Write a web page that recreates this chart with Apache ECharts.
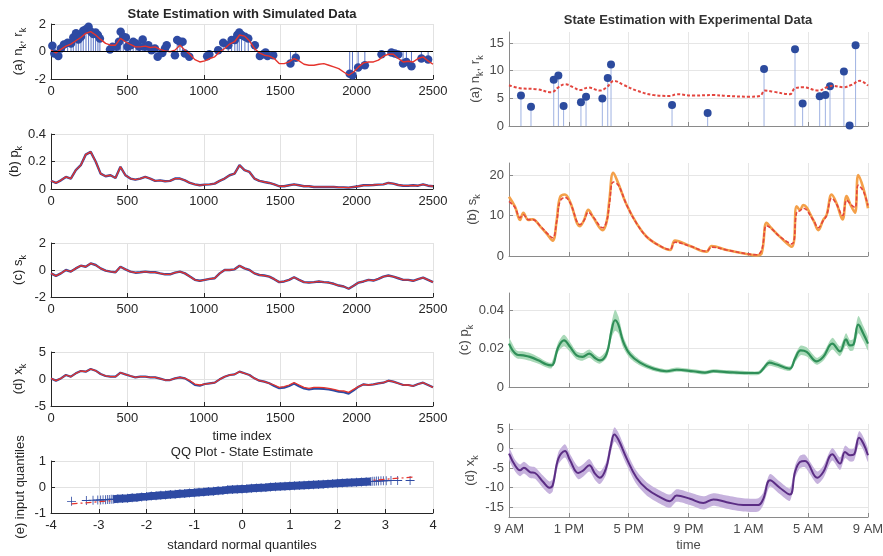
<!DOCTYPE html>
<html>
<head>
<meta charset="utf-8">
<script src="https://cdn.jsdelivr.net/npm/echarts@6/dist/echarts.min.js"></script>
<style>
  html, body { margin: 0; padding: 0; background: #fff; }
  #main { width: 883px; height: 556px; }
</style>
</head>
<body>
<div id="main"></div>
<script>
// ---- simulated data (left column), samples spread evenly over time index 0..2500
var simRk = [0.1, -0.1, 0.15, 0.39, 0.54, 0.78, 1.02, 1.32, 1.44, 1.2, 0.88, 0.59, 0.46, 0.46, 0.95, 0.71, 0.51, 0.34, 0.34, 0.39,
  0.29, 0.34, 0.15, 0.05, -0.02, 0.1, 0.46, 0.1, -0.2, -0.59, -0.76, -0.68, -0.51, -0.39, -0.02, 0.22, 0.54, 0.71, 1.2, 1.12,
  0.78, 0.22, -0.1, -0.27, -0.34, -0.51, -0.88, -0.88, -0.76, -0.51, -0.68, -0.93, -1.0, -1.0, -0.93, -0.88, -1.0, -1.12, -1.24, -1.49,
  -1.73, -1.49, -1.12, -0.83, -0.76, -0.76, -0.63, -0.34, -0.2, -0.2, -0.51, -0.76, -0.71, -0.76, -0.51, -0.39, -0.68, -0.93];
var simObsIdx = [9, 22, 48, 65, 85, 109, 131, 146, 164, 179, 196, 211, 229, 246, 262, 277, 292, 307, 320,
  386, 403, 429, 445, 456, 473, 490, 501, 521, 538, 556, 578, 600, 615, 637, 658, 680, 698, 728, 746, 757,
  811, 826, 844, 861, 876, 905, 1022, 1036, 1094, 1127, 1160, 1182, 1203, 1219, 1232, 1247, 1269, 1291,
  1334, 1367, 1389, 1404, 1417, 1454, 1567, 1602, 1955, 1973, 2010, 2054, 2163, 2228, 2250, 2272, 2304, 2326, 2359, 2424, 2468];
var simObsVal = [0.41, -0.15, -0.32, 0.22, 0.51, 0.63, 0.59, 1.02, 1.32, 0.88, 1.07, 1.51, 1.61, 1.8, 1.44, 1.27, 1.39, 1.2, 0.95,
  0.15, 0.34, 0.34, 0.71, 1.44, 1.07, 1.02, 0.34, 0.46, 0.71, 0.59, 0.34, 0.88, 0.34, 0.46, 0.1, 0.22, -0.39, -0.1, 0.22, 0.46,
  -0.27, 0.83, 0.71, 0.71, -0.15, -0.39, -0.34, -0.2, 0.1, 0.63, 0.46, 0.83, 0.83, 1.2, 1.39, 1.2, 1.07, 0.95,
  0.46, -0.32, -0.2, -0.07, -0.32, -0.27, -0.88, -0.46, -1.61, -1.73, -1.17, -1.0, -0.2, -0.07, -0.15, -0.22, -0.88, -0.76, -1.07, -0.51, -0.59];
var simPk = [0.06, 0.044, 0.063, 0.088, 0.076, 0.137, 0.173, 0.25, 0.27, 0.2, 0.112, 0.093, 0.1, 0.08, 0.161, 0.1, 0.076, 0.068, 0.076, 0.088,
  0.076, 0.059, 0.063, 0.056, 0.059, 0.076, 0.076, 0.063, 0.044, 0.034, 0.027, 0.032, 0.034, 0.039, 0.059, 0.076, 0.1, 0.112, 0.173, 0.137,
  0.124, 0.076, 0.059, 0.051, 0.044, 0.034, 0.02, 0.02, 0.027, 0.034, 0.027, 0.02, 0.02, 0.015, 0.015, 0.015, 0.015, 0.015, 0.012, 0.012,
  0.01, 0.015, 0.02, 0.027, 0.027, 0.029, 0.032, 0.034, 0.044, 0.039, 0.029, 0.024, 0.024, 0.027, 0.024, 0.034, 0.024, 0.02];
var simSk = [-0.25, -0.44, -0.25, 0, -0.12, 0.12, 0.32, 0.24, 0.49, 0.37, 0.12, -0.05, -0.12, -0.17, 0.24, 0.05, -0.12, -0.2, -0.17, -0.12,
  -0.17, -0.17, -0.25, -0.32, -0.32, -0.2, -0.12, -0.25, -0.49, -0.73, -0.8, -0.73, -0.66, -0.61, -0.25, 0, 0, 0.05, 0.32, 0.12,
  0, -0.25, -0.37, -0.41, -0.49, -0.68, -0.9, -0.85, -0.73, -0.54, -0.73, -0.9, -0.93, -0.9, -0.85, -0.9, -0.93, -1.02, -1.15, -1.22,
  -1.39, -1.17, -0.93, -0.85, -0.73, -0.78, -0.66, -0.49, -0.41, -0.49, -0.61, -0.73, -0.73, -0.8, -0.68, -0.56, -0.73, -0.9];
var simXkEst = [0.1, -0.3, 0.1, 0.74, 0.43, 1.05, 1.48, 1.36, 1.85, 1.54, 0.93, 0.56, 0.43, 0.43, 1.17, 0.86, 0.56, 0.31, 0.43, 0.43,
  0.31, 0.31, 0.06, -0.19, -0.19, 0.12, 0.31, 0.12, -0.31, -0.93, -1.11, -0.93, -0.8, -0.68, -0.06, 0.43, 0.74, 0.86, 1.36, 1.05,
  0.74, 0.12, -0.31, -0.49, -0.8, -1.11, -1.54, -1.42, -1.11, -0.68, -1.11, -1.54, -1.73, -1.54, -1.54, -1.6, -1.73, -1.91, -2.16, -2.22,
  -2.47, -1.91, -1.42, -0.99, -1.11, -0.99, -0.8, -0.68, -0.31, -0.49, -0.8, -1.11, -1.11, -1.3, -0.93, -0.68, -1.11, -1.54];
var simXkTrue = [0.1, -0.3, 0.1, 0.74, 0.43, 1.05, 1.48, 1.36, 1.85, 1.54, 0.93, 0.56, 0.43, 0.43, 1.17, 0.86, 0.56, 0.31, 0.43, 0.43,
  0.31, 0.31, 0.06, -0.19, -0.19, 0.12, 0.31, 0.12, -0.45, -1.1, -1.25, -0.93, -0.8, -0.68, -0.06, 0.43, 0.74, 0.86, 1.36, 1.05,
  0.74, 0.12, -0.31, -0.49, -0.8, -1.3, -1.7, -1.6, -1.3, -0.85, -1.35, -1.75, -1.95, -1.8, -1.8, -1.85, -1.95, -2.1, -2.35, -2.45,
  -2.7, -2.1, -1.42, -0.99, -1.11, -0.99, -0.8, -0.68, -0.31, -0.49, -0.8, -1.11, -1.11, -1.3, -0.93, -0.68, -1.11, -1.54];
var qqX = [-3.57, -3.26, -3.12, -3.02, -2.96, -2.91, -2.86, -2.82, -2.78, -2.74, -2.7,
  -2.6, -2.5, -2.4, -2.3, -2.2, -2.1, -2.0, -1.9, -1.8, -1.7, -1.6, -1.5, -1.4, -1.3, -1.2, -1.1, -1.0, -0.9, -0.8, -0.7,
  -0.6, -0.5, -0.4, -0.3, -0.2, -0.1, 0,
  0.1, 0.2, 0.3, 0.4, 0.5, 0.6, 0.7, 0.8, 0.9, 1.0, 1.1, 1.2, 1.3, 1.4, 1.5, 1.6, 1.7, 1.8, 1.9, 2.0, 2.1, 2.2, 2.3, 2.4, 2.5, 2.6,
  2.7, 2.74, 2.78, 2.82, 2.86, 2.91, 2.96, 3.02, 3.12, 3.26, 3.52];
var qqY = [-0.55, -0.52, -0.51, -0.5, -0.5, -0.49, -0.49, -0.48, -0.48, -0.47, -0.47,
  -0.45, -0.44, -0.43, -0.41, -0.4, -0.38, -0.37, -0.35, -0.34, -0.32, -0.31, -0.29, -0.28, -0.26, -0.25, -0.23, -0.22, -0.2, -0.19, -0.17,
  -0.16, -0.14, -0.13, -0.11, -0.1, -0.09, -0.08,
  -0.07, -0.05, -0.04, -0.03, -0.02, 0, 0.01, 0.02, 0.03, 0.04, 0.05, 0.06, 0.07, 0.08, 0.09, 0.1, 0.11, 0.12, 0.13, 0.14, 0.15, 0.16, 0.17, 0.18, 0.19, 0.2,
  0.21, 0.22, 0.22, 0.23, 0.23, 0.24, 0.24, 0.24, 0.25, 0.25, 0.25];
var qqLineX = [-3.57, 3.57];
var qqLineY = [-0.65, 0.38];

// ---- experimental data (right column), x in hours after 9 AM
var timeLabels = ['9 AM', '1 PM', '5 PM', '9 PM', '1 AM', '5 AM', '9 AM'];
var expStemH = [0.8, 1.47, 2.99, 3.3, 3.65, 4.81, 5.15, 6.24, 6.6, 6.82, 10.9, 13.28, 17.05, 19.12, 19.63, 20.77, 21.15, 21.46, 22.39, 22.77, 23.17];
var expStemN = [5.5, 3.5, 8.35, 9.13, 3.63, 4.3, 5.3, 4.96, 8.7, 11.1, 3.8, 2.36, 10.3, 13.9, 4.05, 5.4, 5.6, 7.2, 9.86, 0.1, 14.6];
var expRH = [0, 0.73, 1.85, 2.85, 3.3, 3.74, 4.3, 4.75, 5.3, 6.08, 6.53, 7.02, 7.64, 8.54, 9.65, 10.76, 11.21, 12.32, 13.66, 14.55,
  16.1, 16.78, 17.1, 17.67, 18.78, 19.12, 19.67, 20.68, 21.24, 21.68, 22.35, 22.9, 23.46, 24];
var expRV = [7.38, 6.84, 6.65, 6.1, 7.0, 7.56, 7.0, 6.5, 6.96, 6.4, 7.0, 8.17, 7.44, 6.4, 5.6, 5.44, 5.75, 5.5, 5.6, 5.44,
  5.3, 5.44, 6.4, 6.2, 5.75, 6.84, 7.0, 6.4, 7.0, 7.26, 7.0, 7.44, 8.17, 7.3];
var expSH = [0, 0.4, 0.74, 0.96, 1.29, 1.58, 2.07, 2.56, 2.92, 3.19, 3.41, 3.74, 4.08, 4.75, 5.02, 5.3, 5.64, 6.26, 6.53, 6.71,
  6.97, 7.31, 7.87, 8.53, 9.2, 10.09, 10.76, 11.1, 12.1, 13.2, 13.55, 14.55, 15.9, 16.55, 16.89, 17.22, 17.56, 18.1, 18.9, 19.23,
  19.45, 19.67, 20.34, 20.68, 21.0, 21.23, 21.57, 21.9, 22.3, 22.57, 22.84, 23.13, 23.35, 23.69, 24];
var expSObs = [14.65, 12.2, 8.9, 10.7, 8.9, 9.1, 7.4, 5.35, 3.8, 8.9, 14.5, 15.2, 13.4, 7.4, 8.9, 11.4, 9.5, 6.4, 8.5, 13.8,
  20.6, 17.9, 12.6, 8.07, 4.77, 2.47, 1.48, 3.8, 2.47, 1.07, 2.47, 1.48, 0.5, 0.16, 0.66, 8.2, 6.8, 4.8, 2.3, 12.3,
  11.4, 12.6, 8.9, 6.4, 8.9, 10.1, 15.2, 13.0, 9.05, 14.8, 12.6, 10.7, 20.0, 16.7, 11.8];
var expSEst = [13.5, 12.0, 9.5, 10.2, 9.0, 9.0, 7.5, 5.6, 4.5, 8.5, 13.5, 14.5, 13.2, 7.8, 8.8, 10.8, 9.6, 7.0, 8.6, 12.8,
  18.3, 17.5, 12.6, 8.07, 4.77, 2.5, 1.6, 3.4, 2.47, 1.2, 2.2, 1.48, 0.55, 0.3, 1.5, 7.5, 6.7, 4.8, 3.0, 10.8,
  11.2, 11.8, 8.9, 7.0, 8.7, 10.0, 14.3, 12.8, 10.0, 13.8, 12.8, 12.0, 17.5, 16.0, 12.5];
var expPH = [0, 0.51, 0.96, 1.4, 1.96, 2.52, 2.85, 3.3, 3.68, 4.08, 4.52, 4.92, 5.37, 5.75, 6.08, 6.53, 6.86, 7.09, 7.31, 7.64,
  8.09, 8.76, 9.65, 10.54, 11.21, 12.32, 13.1, 13.66, 14.55, 15.89, 16.67, 17.0, 17.4, 17.89, 18.78, 19.12, 19.5, 19.9, 20.57, 21.01,
  21.61, 22.13, 22.53, 22.79, 23.02, 23.35, 23.69, 24];
var expP = [0.0226, 0.017, 0.0165, 0.0157, 0.0139, 0.0117, 0.0113, 0.0209, 0.0243, 0.0209, 0.0165, 0.0157, 0.0174, 0.0151, 0.0139, 0.0174, 0.0296, 0.0348, 0.0325, 0.0235,
  0.017, 0.0127, 0.0096, 0.0082, 0.009, 0.0082, 0.0075, 0.0083, 0.0078, 0.0073, 0.0073, 0.0096, 0.0127, 0.0117, 0.0096, 0.0148, 0.0191, 0.0183, 0.0134, 0.0157,
  0.0226, 0.0186, 0.0248, 0.0217, 0.0221, 0.0325, 0.0278, 0.0226];
var expPBand = [0.003, 0.002, 0.002, 0.002, 0.0018, 0.0015, 0.0015, 0.0025, 0.003, 0.0025, 0.002, 0.002, 0.0022, 0.002, 0.0018, 0.0022, 0.004, 0.0055, 0.0045, 0.003,
  0.002, 0.0015, 0.0012, 0.001, 0.0011, 0.001, 0.001, 0.001, 0.001, 0.001, 0.001, 0.0012, 0.0016, 0.0015, 0.0012, 0.002, 0.0025, 0.0024, 0.0018, 0.002,
  0.003, 0.0025, 0.0032, 0.0028, 0.003, 0.0045, 0.004, 0.0035];
var expXH = [0, 0.4, 0.74, 1.0, 1.4, 1.74, 2.29, 2.7, 2.92, 3.3, 3.74, 4.08, 4.63, 4.97, 5.37, 5.75, 6.08, 6.48, 6.8, 7.04,
  7.31, 7.87, 8.53, 9.2, 10.09, 10.76, 11.21, 12.1, 12.99, 13.66, 14.55, 15.66, 16.67, 17.0, 17.45, 18.1, 18.78, 19.12, 19.45, 19.79,
  20.61, 21.01, 21.61, 22.13, 22.46, 22.79, 23.06, 23.4, 23.69, 24];
var expX = [-1.27, -4.27, -5.56, -4.87, -6.0, -6.24, -8.56, -10.0, -9.4, -2.55, -0.58, -2.98, -6.24, -5.56, -4.27, -6.4, -7.45, -5.13, 0.45, 3.63,
  2.34, -2.55, -7.45, -10.28, -12.4, -13.45, -12.0, -12.85, -13.9, -13.0, -13.7, -14.4, -14.4, -12.85, -8.1, -10.0, -11.74, -6.0, -3.41, -3.15,
  -7.45, -6.0, -1.44, -3.84, -0.84, -1.7, -1.52, 2.77, 1.3, -1.7];
var expXBand = [1.5, 1.5, 1.5, 1.5, 1.5, 1.5, 1.6, 1.6, 1.6, 1.6, 1.7, 1.6, 1.6, 1.6, 1.6, 1.6, 1.6, 1.6, 1.7, 1.8,
  1.8, 1.7, 1.7, 1.7, 1.7, 1.7, 1.6, 1.6, 1.7, 1.6, 1.7, 1.7, 1.7, 1.6, 1.6, 1.6, 1.6, 1.6, 1.6, 1.6,
  1.6, 1.6, 1.6, 1.6, 1.6, 1.6, 1.6, 1.7, 1.7, 1.7];

// ---- helpers
var FONT = '"Liberation Sans", Arial, Helvetica, sans-serif';
var INK = '#262626';
var GRAY = '#4a4a4a';
var BLUE = '#2e4aa3';
var RED = '#e5332c';

function onIndex(vals) {
  var step = 2500 / (vals.length - 1);
  return vals.map(function (v, i) { return [i * step, v]; });
}
function zip(xs, ys) {
  return xs.map(function (x, i) { return [x, ys[i]]; });
}
function stemItem(params, api) {
  var tip = api.coord([api.value(0), api.value(1)]);
  var foot = api.coord([api.value(0), 0]);
  return {
    type: 'line',
    shape: { x1: foot[0], y1: foot[1], x2: tip[0], y2: tip[1] },
    style: { stroke: api.visual('color'), lineWidth: 1 }
  };
}
// confidence band: upper edge forward, lower edge back, as one smooth polygon
function bandItem(hs, vals, half) {
  return function (params, api) {
    var pts = [];
    for (var i = 0; i < hs.length; i++) pts.push(api.coord([hs[i], vals[i] + half[i]]));
    for (var j = hs.length - 1; j >= 0; j--) pts.push(api.coord([hs[j], vals[j] - half[j]]));
    return { type: 'polygon', shape: { points: pts, smooth: 0.25 }, style: { fill: api.visual('color') } };
  };
}
function nameStyle(color) {
  return {
    color: color, fontSize: 13, fontFamily: FONT, lineHeight: 20,
    rich: { k: { color: color, fontSize: 9, fontFamily: FONT, lineHeight: 9, verticalAlign: 'bottom' } }
  };
}

var leftBoxes = [[24, 55], [134, 55], [243, 54], [352, 54], [461, 52]];
var rightBoxes = [[32, 94], [163, 93], [293, 94], [424, 93]];
var grids = leftBoxes.map(function (b) {
  return { left: 51, top: b[0], width: 382, height: b[1], outerBoundsMode: 'none' };
}).concat(rightBoxes.map(function (b) {
  return { left: 509, top: b[0], width: 359, height: b[1], outerBoundsMode: 'none' };
}));

function simXAxis(i, extra) {
  return Object.assign({
    type: 'value', gridIndex: i, min: 0, max: 2500, interval: 500,
    axisLine: { onZero: false, lineStyle: { color: INK } },
    axisTick: { inside: true, length: 4, lineStyle: { color: INK } },
    axisLabel: { color: INK, fontSize: 13, fontFamily: FONT, margin: 6,
      formatter: function (v) { return String(v); } },
    splitLine: { show: true, lineStyle: { color: '#e2e2e2' } },
    nameTextStyle: { color: INK, fontSize: 13, fontFamily: FONT }
  }, extra || {});
}
function simYAxis(i, min, max, interval, name, gap) {
  return {
    type: 'value', gridIndex: i, min: min, max: max, interval: interval,
    name: name, nameLocation: 'middle', nameGap: gap, nameTextStyle: nameStyle(INK),
    axisLine: { show: true, onZero: false, lineStyle: { color: INK } },
    axisTick: { show: true, inside: true, length: 4, lineStyle: { color: INK } },
    axisLabel: { color: INK, fontSize: 13, fontFamily: FONT, margin: 5 },
    splitLine: { show: true, lineStyle: { color: '#e2e2e2' } }
  };
}
function expXAxis(i, last) {
  return {
    type: 'value', gridIndex: i, min: 0, max: 24, interval: 4,
    name: last ? 'time' : '', nameLocation: 'middle', nameGap: 22,
    nameTextStyle: { color: GRAY, fontSize: 13, fontFamily: FONT },
    axisLine: { onZero: false, lineStyle: { color: '#8a8a8a' } },
    axisTick: { inside: true, length: 4, lineStyle: { color: '#8a8a8a' } },
    axisLabel: {
      show: !!last, color: GRAY, fontSize: 13, fontFamily: FONT, margin: 6,
      showMinLabel: true, showMaxLabel: true,
      formatter: function (v) { return timeLabels[Math.round(v / 4)]; }
    },
    splitLine: { show: true, lineStyle: { color: '#e6e6e6' } }
  };
}
function expYAxis(i, min, max, ticks, name, gap) {
  return {
    type: 'value', gridIndex: i, min: min, max: max,
    name: name, nameLocation: 'middle', nameGap: gap, nameTextStyle: nameStyle(GRAY),
    axisLine: { show: true, onZero: false, lineStyle: { color: '#8a8a8a' } },
    axisTick: { show: true, inside: true, length: 4, customValues: ticks, lineStyle: { color: '#8a8a8a' } },
    axisLabel: { color: GRAY, fontSize: 13, fontFamily: FONT, margin: 5, customValues: ticks },
    splitLine: { show: true, lineStyle: { color: '#e6e6e6' } }
  };
}

var plusPath = 'path://M-1,-0.09L-0.09,-0.09L-0.09,-1L0.09,-1L0.09,-0.09L1,-0.09L1,0.09L0.09,0.09L0.09,1L-0.09,1L-0.09,0.09L-1,0.09Z';

function lineSeries(x, y, data, color, width, extra) {
  return Object.assign({
    type: 'line', xAxisIndex: x, yAxisIndex: y, data: data, symbol: 'none',
    lineStyle: { color: color, width: width }, itemStyle: { color: color }
  }, extra || {});
}
function bandSeries(x, y, hs, vals, half, color) {
  return { type: 'custom', xAxisIndex: x, yAxisIndex: y, renderItem: bandItem(hs, vals, half),
    clip: true, silent: true, itemStyle: { color: color }, data: [[hs[0], vals[0]]] };
}

// dense middle of the QQ cloud: markers overlap into a solid stroke
var qqDense = zip(qqX.slice(10, 65), qqY.slice(10, 65));

var series = [
  // left (a)
  { type: 'custom', xAxisIndex: 0, yAxisIndex: 0, renderItem: stemItem, clip: true,
    itemStyle: { color: '#5a74c6' }, data: zip(simObsIdx, simObsVal) },
  { type: 'scatter', xAxisIndex: 0, yAxisIndex: 0, symbolSize: 8.5, itemStyle: { color: BLUE, opacity: 1 },
    data: zip(simObsIdx, simObsVal) },
  lineSeries(0, 0, onIndex(simRk), RED, 1.4, {
    markLine: { silent: true, symbol: 'none', label: { show: false },
      lineStyle: { color: '#000', width: 1, type: 'solid' }, data: [{ yAxis: 0 }] }
  }),
  // left (b)
  lineSeries(1, 1, onIndex(simPk), BLUE, 2.4),
  lineSeries(1, 1, onIndex(simPk), RED, 1.3),
  // left (c)
  lineSeries(2, 2, onIndex(simSk), BLUE, 2.4),
  lineSeries(2, 2, onIndex(simSk), RED, 1.3),
  // left (d)
  lineSeries(3, 3, onIndex(simXkTrue), BLUE, 2.2),
  lineSeries(3, 3, onIndex(simXkEst), RED, 1.3),
  // left (e)
  lineSeries(4, 4, zip(qqLineX, qqLineY), RED, 1.2, { lineStyle: { color: RED, width: 1.2, type: [6, 3, 2, 3] } }),
  lineSeries(4, 4, qqDense, BLUE, 8, { lineStyle: { color: BLUE, width: 8, cap: 'butt' } }),
  { type: 'scatter', xAxisIndex: 4, yAxisIndex: 4, symbol: plusPath, symbolSize: 9,
    itemStyle: { color: BLUE, opacity: 1 }, data: zip(qqX, qqY) },
  // right (a)
  { type: 'custom', xAxisIndex: 5, yAxisIndex: 5, renderItem: stemItem, clip: true,
    itemStyle: { color: '#9fb2e2' }, data: zip(expStemH, expStemN) },
  lineSeries(5, 5, zip(expRH, expRV), '#e3453e', 2, { smooth: 0.4, lineStyle: { color: '#e3453e', width: 2, type: [3, 2] } }),
  { type: 'scatter', xAxisIndex: 5, yAxisIndex: 5, symbolSize: 8, itemStyle: { color: '#2c4b9e', opacity: 1 },
    data: zip(expStemH, expStemN) },
  // right (b)
  lineSeries(6, 6, zip(expSH, expSObs), '#f4a049', 2.6, { smooth: 0.4 }),
  lineSeries(6, 6, zip(expSH, expSEst), '#e3453e', 1.6, { smooth: 0.4, lineStyle: { color: '#e3453e', width: 1.6, type: [4, 2] } }),
  // right (c)
  bandSeries(7, 7, expPH, expP, expPBand, '#a9d9b8'),
  lineSeries(7, 7, zip(expPH, expP), '#2f8f58', 2.2, { smooth: 0.4 }),
  // right (d)
  bandSeries(8, 8, expXH, expX, expXBand, '#c6b2dd'),
  lineSeries(8, 8, zip(expXH, expX), '#5b2d84', 2, { smooth: 0.4 })
];

var chart = echarts.init(document.getElementById('main'), null, { renderer: 'canvas' });
chart.setOption({
  animation: false,
  backgroundColor: '#fff',
  grid: grids,
  xAxis: [
    simXAxis(0), simXAxis(1), simXAxis(2),
    simXAxis(3, { name: 'time index', nameLocation: 'middle', nameGap: 24 }),
    simXAxis(4, { min: -4, max: 4, interval: 1, name: 'standard normal quantiles', nameLocation: 'middle', nameGap: 26 }),
    expXAxis(5), expXAxis(6), expXAxis(7), expXAxis(8, true)
  ],
  yAxis: [
    simYAxis(0, -2, 2, 2, '(a) n{k|k}, r{k|k}', 23),
    simYAxis(1, 0, 0.4, 0.2, '(b) p{k|k}', 27),
    simYAxis(2, -2, 2, 2, '(c) s{k|k}', 23),
    simYAxis(3, -5, 5, 5, '(d) x{k|k}', 23),
    simYAxis(4, -1, 1, 1, '(e) input quantiles', 19),
    expYAxis(5, 0, 17, [0, 5, 10, 15], '(a) n{k|k}, r{k|k}', 24),
    expYAxis(6, 0, 23, [0, 10, 20], '(b) s{k|k}', 27),
    expYAxis(7, 0, 0.049, [0, 0.02, 0.04], '(c) p{k|k}', 33),
    expYAxis(8, -17.5, 6.3, [-15, -10, -5, 0, 5], '(d) x{k|k}', 29)
  ],
  graphic: [
    { type: 'text', x: 242, y: 14, style: { text: 'State Estimation with Simulated Data', fill: INK,
      font: 'bold 13px ' + FONT, align: 'center', verticalAlign: 'middle' } },
    { type: 'text', x: 242, y: 452, style: { text: 'QQ Plot - State Estimate', fill: INK,
      font: '13px ' + FONT, align: 'center', verticalAlign: 'middle' } },
    { type: 'text', x: 688, y: 20, style: { text: 'State Estimation with Experimental Data', fill: '#333',
      font: 'bold 13px ' + FONT, align: 'center', verticalAlign: 'middle' } }
  ],
  series: series
});
</script>
</body>
</html>
